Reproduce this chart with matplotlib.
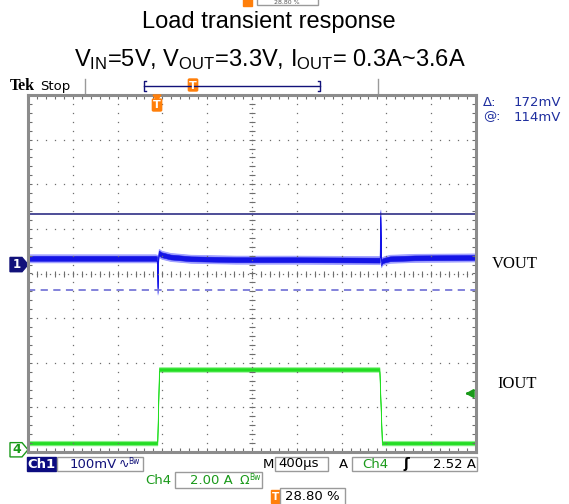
import numpy as np
import matplotlib
matplotlib.use('Agg')
from matplotlib import pyplot as plt
from matplotlib import transforms
from matplotlib.patches import Rectangle, Polygon, FancyBboxPatch
from matplotlib.ticker import FixedLocator

plt.rcParams['mathtext.fontset'] = 'custom'
plt.rcParams['mathtext.rm'] = 'Liberation Sans'
plt.rcParams['mathtext.default'] = 'regular'

# scope settings
TIME_PER_DIV_US = 400
TRIG_POS = 0.288            # 28.80 %
CH1_MV_PER_DIV = 100
CH1_POS = 0.2               # divisions
CH4_A_PER_DIV = 2.0
CH4_POS = -3.95
TRIG_LEVEL_A = 2.52
CURSOR_MV = [114, -58]      # @ 114mV, delta 172mV

# Ch1: VOUT (AC coupled, mV)
vout_t_us = [-1152, -15, 0, 5, 9, 16, 40, 120, 300, 700, 1200, 1975, 1988, 1994, 2001, 2010, 2030, 2080, 2300, 2848]
vout_mv = [14, 14, 13, -58, 12, 26, 22, 17, 13, 11, 11, 10, 10, 114, 3, 8, 10, 13, 15, 16]

# Ch4: IOUT (A)
iout_t_us = [-1152, 2, 18, 1985, 2008, 2848]
iout_a = [0.3, 0.3, 3.6, 3.6, 0.3, 0.3]

W, H = 569, 504
NAVY = '#12127a'
BLUE = '#1414e6'
GREEN = '#22dd22'
DGREEN = '#1a9a1a'
ORANGE = '#ff7f0a'
GRID = '#6e6e6e'


def fx(px):
    return px / W


def fy(py):
    return 1 - py / H


def ptext(x, y, s, **kw):
    kw.setdefault('va', 'center')
    kw.setdefault('family', 'DejaVu Sans')
    return fig.text(fx(x), fy(y), s, **kw)


def pbox(x0, y0, x1, y1, fc='white', ec='#9a9a9a', lw=1.0):
    fig.patches.append(Rectangle((fx(x0), fy(y1)), fx(x1) - fx(x0), fy(y0) - fy(y1),
                                 transform=fig.transFigure, fc=fc, ec=ec, lw=lw))


def pline(xs, ys, **kw):
    fig.lines.append(plt.Line2D([fx(x) for x in xs], [fy(y) for y in ys],
                                transform=fig.transFigure, **kw))


def tmark(x, y0):
    fig.patches.append(FancyBboxPatch((fx(x - 3.5), fy(y0 + 10)), fx(7), 10 / H,
                                      boxstyle='round,pad=0.002', transform=fig.transFigure,
                                      fc=ORANGE, ec=ORANGE))
    ptext(x, y0 + 5.5, 'T', color='white', fontsize=8, fontweight='bold', ha='center')


fig = plt.figure(figsize=(W / 100, H / 100), dpi=100)
ax = fig.add_axes([fx(28), fy(452), 448 / W, 357 / H])

x0 = -TRIG_POS * 10 * TIME_PER_DIV_US
x1 = x0 + 10 * TIME_PER_DIV_US
ax.set_xlim(x0, x1)
ax.set_ylim(-4, 4)
div = TIME_PER_DIV_US

# graticule
for k in range(1, 10):
    xk = x0 + k * div
    if k == 5:
        continue
    yy = np.arange(-4, 4.01, 0.2)
    ax.plot(np.full_like(yy, xk), yy, ls='none', marker='s', ms=0.9, mew=0, color=GRID)
for j in range(-3, 4):
    if j == 0:
        continue
    xx = x0 + np.arange(0, 10.01, 0.2) * div
    ax.plot(xx, np.full_like(xx, j), ls='none', marker='s', ms=0.9, mew=0, color=GRID)
# center lines
xc = x0 + 5 * div
xx = x0 + np.arange(0, 10.01, 0.1) * div
ax.plot(xx, np.zeros_like(xx), ls='none', marker='s', ms=0.9, mew=0, color=GRID)
xx = x0 + np.arange(0, 10.01, 0.2) * div
ax.plot(xx, np.zeros_like(xx), ls='none', marker='|', ms=5, mew=0.8, color=GRID)
yy = np.arange(-4, 4.01, 0.1)
ax.plot(np.full_like(yy, xc), yy, ls='none', marker='s', ms=0.9, mew=0, color=GRID)
yy = np.arange(-4, 4.01, 0.2)
ax.plot(np.full_like(yy, xc), yy, ls='none', marker='_', ms=5, mew=0.8, color=GRID)

ax.xaxis.set_major_locator(FixedLocator(x0 + np.arange(0, 10.01, 0.2) * div))
ax.yaxis.set_major_locator(FixedLocator(np.arange(-4, 4.01, 0.2)))
ax.tick_params(direction='in', length=3, width=0.8, color=GRID, top=True, right=True,
               labelbottom=False, labelleft=False)
for s in ax.spines.values():
    s.set_color('#8c8c8c')
    s.set_linewidth(2.2)

# cursors
ax.axhline(CURSOR_MV[0] / CH1_MV_PER_DIV + CH1_POS, color='#1c1c7a', lw=1.1)
ax.axhline(CURSOR_MV[1] / CH1_MV_PER_DIV + CH1_POS, color='#7878d8', lw=1.3, ls=(0, (4, 3)))

# traces
t = np.array(vout_t_us, dtype=float)
v = np.array(vout_mv) / CH1_MV_PER_DIV + CH1_POS
ax.fill_between(t, v - 0.09, v + 0.09, color='#8f8fff', lw=0.6, alpha=0.8)
ax.fill_between(t, v - 0.055, v + 0.055, color=BLUE, lw=0.4)

t4 = np.array(iout_t_us, dtype=float)
i4 = np.array(iout_a) / CH4_A_PER_DIV + CH4_POS
ax.fill_between(t4, i4 - 0.05, i4 + 0.05, color='#86f286', lw=0.6)
ax.fill_between(t4, i4 - 0.03, i4 + 0.03, color=GREEN, lw=0.4)

# trigger level arrow
ty = TRIG_LEVEL_A / CH4_A_PER_DIV + CH4_POS
ax.annotate('', xy=(x1 - 0.3 * div, ty), xytext=(x1 - 0.12 * div, ty),
            arrowprops=dict(arrowstyle='-|>,head_length=0.45,head_width=0.25', color=DGREEN, lw=1.5))

# channel markers (x in inches, y in divisions)
mk = transforms.blended_transform_factory(fig.dpi_scale_trans, ax.transData)
h = 0.16
ax.add_patch(Polygon([(0.10, CH1_POS + h), (0.22, CH1_POS + h), (0.28, CH1_POS),
                      (0.22, CH1_POS - h), (0.10, CH1_POS - h)], closed=True,
                     transform=mk, fc=NAVY, ec=NAVY, clip_on=False))
ax.text(0.165, CH1_POS, '1', transform=mk, color='white', fontsize=8.5, fontweight='bold',
        ha='center', va='center', clip_on=False)
ax.add_patch(Polygon([(0.10, CH4_POS + h), (0.22, CH4_POS + h), (0.28, CH4_POS),
                      (0.22, CH4_POS - h), (0.10, CH4_POS - h)], closed=True,
                     transform=mk, fc='white', ec=DGREEN, lw=1.0, clip_on=False))
ax.text(0.165, CH4_POS, '4', transform=mk, color=DGREEN, fontsize=9, fontweight='bold',
        ha='center', va='center', clip_on=False)

# trigger position marker
trig_x = 28 + TRIG_POS * 448
fig.patches.append(Polygon([(fx(trig_x - 4), fy(95)), (fx(trig_x + 4), fy(95)), (fx(trig_x), fy(100))],
                           transform=fig.transFigure, fc=ORANGE, ec=ORANGE))
tmark(trig_x, 100)

# titles
ptext(269, 22, 'Load transient response', ha='center', family='Liberation Sans', fontsize=17)
ptext(270, 60, r'V$_{IN}$=5V, V$_{OUT}$=3.3V, I$_{OUT}$= 0.3A~3.6A', ha='center',
      family='Liberation Sans', fontsize=17)

# header
ptext(10, 86, 'Tek', family='Liberation Serif', fontweight='bold', fontsize=11.5)
ptext(40, 86, 'Stop', fontsize=9.5)
pline([85, 85], [79, 93], color='#9a9a9a', lw=1)
pline([378, 378], [79, 93], color='#9a9a9a', lw=1)
pline([144, 320], [86, 86], color=NAVY, lw=1)
pline([146, 144, 144, 146], [81, 81, 91, 91], color=NAVY, lw=1)
pline([318, 320, 320, 318], [81, 81, 91, 91], color=NAVY, lw=1)
tmark(193, 80)

# top cut-off readout (only its lower edge is in the frame)
fig.patches.append(Rectangle((fx(243), fy(6)), fx(9), 12 / H, transform=fig.transFigure, fc=ORANGE, ec=ORANGE))
pbox(257, -8, 318, 5)
ptext(287, 2.5, '28.80 %', fontsize=4.5, color='#555555', ha='center')

# cursor readout
ptext(483, 103, 'Δ:', fontsize=9.5, color='#1f2f9f')
ptext(561, 103, '172mV', fontsize=9.5, color='#1f2f9f', ha='right')
ptext(483, 117, '@:', fontsize=9.5, color='#1f2f9f')
ptext(561, 117, '114mV', fontsize=9.5, color='#1f2f9f', ha='right')

# channel labels
ptext(492, 264, 'VOUT', family='Liberation Serif', fontsize=12)
ptext(497, 384, 'IOUT', family='Liberation Serif', fontsize=12)

# status bar row 1
pbox(27, 457, 56, 471, fc='#0c0c80', ec='#0c0c80')
ptext(41.5, 464, 'Ch1', color='white', fontsize=9.5, fontweight='bold', ha='center')
pbox(57, 457, 143, 471)
ptext(70, 464, '100mV', color=NAVY, fontsize=9.5)
ptext(119, 464, '∿', color=NAVY, fontsize=9)
ptext(128, 461, 'Bw', color=NAVY, fontsize=5.5)
ptext(268, 464, 'M', color='black', fontsize=9.5, ha='center')
pbox(275, 457, 328, 471)
ptext(278, 464, '400µs', color='black', fontsize=9.5)
ptext(343, 464, 'A', color='black', fontsize=9.5, ha='center')
pbox(352, 457, 477, 471)
ptext(362, 464, 'Ch4', color=DGREEN, fontsize=9.5)
ptext(406, 464, 'ʃ', color='black', fontsize=10, fontweight='bold', ha='center')
ptext(476, 464, '2.52 A', color='black', fontsize=9.5, ha='right')

# row 2
ptext(145, 480, 'Ch4', color=DGREEN, fontsize=9.5)
pbox(175, 472, 262, 488)
ptext(190, 480, '2.00 A', color=DGREEN, fontsize=9.5)
ptext(240, 480, 'Ω', color=DGREEN, fontsize=9)
ptext(249, 477, 'Bw', color=DGREEN, fontsize=5.5)

# row 3
fig.patches.append(Rectangle((fx(271), fy(503)), fx(9), 13 / H, transform=fig.transFigure, fc=ORANGE, ec=ORANGE))
ptext(275.5, 497, 'T', color='white', fontsize=7.5, fontweight='bold', ha='center')
pbox(280, 488, 345, 506)
ptext(285, 497, '28.80 %', color='black', fontsize=9.5)

fig.savefig('out.png', dpi=100)
